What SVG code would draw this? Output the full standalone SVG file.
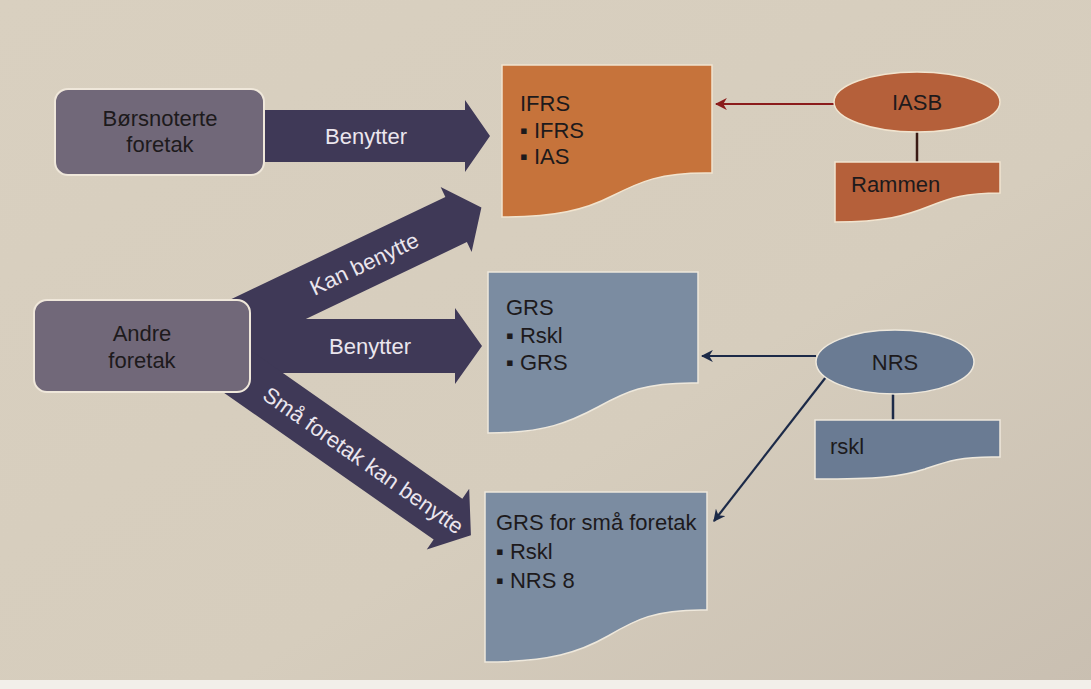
<svg xmlns="http://www.w3.org/2000/svg" width="1091" height="689" viewBox="0 0 1091 689">
<defs>
<linearGradient id="bg" x1="0" y1="0" x2="1" y2="1">
<stop offset="0" stop-color="#d9d0c0"/>
<stop offset="0.6" stop-color="#d6cdbd"/>
<stop offset="1" stop-color="#c9bfb1"/>
</linearGradient>
<marker id="redHead" viewBox="0 0 10 10" refX="9" refY="5" markerWidth="5.5" markerHeight="5.5" orient="auto"><path d="M0,0 L10,5 L0,10 L3,5 Z" fill="#8b1c1c"/></marker>
<marker id="blueHead" viewBox="0 0 10 10" refX="9" refY="5" markerWidth="5.5" markerHeight="5.5" orient="auto"><path d="M0,0 L10,5 L0,10 L3,5 Z" fill="#1c2a48"/></marker>
</defs>
<style>
text{font-family:"Liberation Sans",Arial,sans-serif;font-size:22px;fill:#1d1a1c}
.node{fill:#716879;stroke:#efe7da;stroke-width:2}
.arrow{fill:#3f3957}
.alabel{fill:#ebe6ee;text-anchor:middle}
.orange{fill:#c6733b;stroke:#f1e4cf;stroke-width:1.5}
.orange2{fill:#b5603a;stroke:#f1e4cf;stroke-width:1.5}
.blue{fill:#7b8ca1;stroke:#eee8dc;stroke-width:1.5}
.blue2{fill:#6a7b93;stroke:#eee8dc;stroke-width:1.5}
.mid{text-anchor:middle}
</style>
<rect width="1091" height="689" fill="url(#bg)"/>
<rect x="0" y="680" width="1091" height="9" fill="#f2efea"/>

<g id="connectors">
<g id="arrow-boers-benytter">
<path class="arrow" d="M255,110 H465 V100 L490,136 L465,172 V162 H255 Z"/>
<text class="alabel" x="366" y="144">Benytter</text>
</g>
<g id="arrow-kan-benytte" transform="translate(235,325) rotate(-25.5)">
<path class="arrow" d="M0,-25 H245 V-36 L273,0 L245,36 V25 H0 Z"/>
<text class="alabel" x="143" y="8">Kan benytte</text>
</g>
<g id="arrow-andre-benytter">
<path class="arrow" d="M245,319 H455 V308 L482,346 L455,384 V373 H245 Z"/>
<text class="alabel" x="370" y="354">Benytter</text>
</g>
<g id="arrow-smaa" transform="translate(235,370) rotate(35)">
<path class="arrow" d="M0,-25 H260 V-37 L288,0 L260,37 V25 H0 Z"/>
<text class="alabel" x="157" y="8">Små foretak kan benytte</text>
</g>
<line x1="836" y1="104" x2="716" y2="104" stroke="#8b1c1c" stroke-width="2.2" marker-end="url(#redHead)"/>
<line x1="917" y1="132" x2="917" y2="162" stroke="#3a1a14" stroke-width="2.5"/>
<line x1="816" y1="356" x2="702" y2="356" stroke="#1c2a48" stroke-width="2.2" marker-end="url(#blueHead)"/>
<line x1="893" y1="393" x2="893" y2="420" stroke="#1c2a48" stroke-width="2.5"/>
<line x1="826" y1="377" x2="714" y2="521" stroke="#1c2a48" stroke-width="2.2" marker-end="url(#blueHead)"/>
</g>

<g id="node-boersnoterte">
<rect class="node" x="55" y="89" width="209" height="86" rx="13"/>
<text class="mid" x="160" y="126">Børsnoterte</text>
<text class="mid" x="160" y="152">foretak</text>
</g>

<g id="node-andre">
<rect class="node" x="34" y="300" width="216" height="92" rx="13"/>
<text class="mid" x="142" y="341">Andre</text>
<text class="mid" x="142" y="368">foretak</text>
</g>

<g id="node-ifrs">
<path class="orange" d="M502,65 H712 V173 C660,172 640,182 612,196 C585,210 555,217 502,217 Z"/>
<text x="520" y="111">IFRS</text>
<text x="520" y="138">▪ IFRS</text>
<text x="520" y="164">▪ IAS</text>
</g>

<g id="node-iasb">
<ellipse class="orange2" cx="917" cy="102" rx="83" ry="30"/>
<text class="mid" x="917" y="110">IASB</text>
</g>

<g id="node-rammen">
<path class="orange2" d="M835,162 H1000 V193 C965,193 950,198 930,206 C905,216 885,222 835,222 Z"/>
<text x="851" y="192">Rammen</text>
</g>

<g id="node-grs">
<path class="blue" d="M488,272 H698 V383 C645,382 625,392 598,407 C570,422 545,433 488,433 Z"/>
<text x="506" y="315">GRS</text>
<text x="506" y="343">▪ Rskl</text>
<text x="506" y="370">▪ GRS</text>
</g>

<g id="node-nrs">
<ellipse class="blue2" cx="895" cy="362" rx="79" ry="32"/>
<text class="mid" x="895" y="370">NRS</text>
</g>

<g id="node-rskl">
<path class="blue2" d="M815,420 H1000 V457 C960,456 945,462 925,469 C900,477 880,479 815,479 Z"/>
<text x="830" y="454">rskl</text>
</g>

<g id="node-grs-smaa">
<path class="blue" d="M485,492 H707 V610 C655,609 635,620 608,636 C580,652 550,662 485,662 Z"/>
<text x="496" y="530">GRS for små foretak</text>
<text x="496" y="559">▪ Rskl</text>
<text x="496" y="588">▪ NRS 8</text>
</g>
</svg>
